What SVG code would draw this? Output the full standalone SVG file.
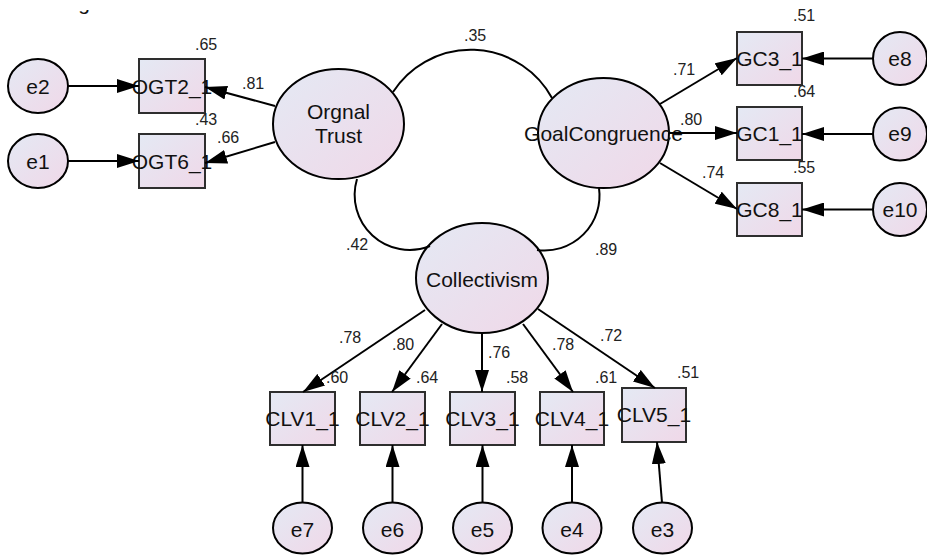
<svg xmlns="http://www.w3.org/2000/svg" width="927" height="557" viewBox="0 0 927 557">
<defs>
<linearGradient id="g" x1="0" y1="0" x2="1" y2="1">
<stop offset="0" stop-color="#e4e9f4"/>
<stop offset="1" stop-color="#f0d8e8"/>
</linearGradient>
<marker id="ah" viewBox="0 0 22 14" refX="22" refY="7" markerWidth="22" markerHeight="14" markerUnits="userSpaceOnUse" orient="auto">
<path d="M0,0 L22,7 L0,14 z" fill="#000"/>
</marker>
<clipPath id="cut"><rect x="0" y="10" width="200" height="20"/></clipPath>
</defs>
<style>
.n{fill:url(#g);stroke:#000;stroke-width:2}
.b{fill:url(#g);stroke:#2e2e2e;stroke-width:2}
.t{font-family:"Liberation Sans",Arial,sans-serif;font-size:21px;text-anchor:middle;fill:#111}
.l{font-family:"Liberation Sans",Arial,sans-serif;font-size:16px;fill:#222}
.c{fill:none;stroke:#000;stroke-width:2}
.a{fill:none;stroke:#000;stroke-width:2;marker-end:url(#ah)}
</style>
<rect width="927" height="557" fill="#fff"/>
<text class="t" x="84" y="9.5" font-size="26" clip-path="url(#cut)">g</text>

<g id="nodes">
<g id="e2"><ellipse class="n" cx="38" cy="86" rx="30" ry="27"/><text class="t" x="38" y="93.5">e2</text></g>
<g id="e1"><ellipse class="n" cx="38" cy="161" rx="30" ry="27"/><text class="t" x="38" y="168.5">e1</text></g>
<g id="OGT2_1"><rect class="b" x="139" y="59" width="66" height="54"/><text class="t" x="172" y="94">OGT2_1</text></g>
<g id="OGT6_1"><rect class="b" x="139" y="134" width="66" height="54"/><text class="t" x="172" y="168.5">OGT6_1</text></g>
<g id="OrgnalTrust"><ellipse class="n" cx="338.5" cy="124" rx="65.5" ry="55"/><text class="t" x="338.5" y="119">Orgnal</text><text class="t" x="338.5" y="142.5">Trust</text></g>
<g id="GoalCongruence"><ellipse class="n" cx="603.5" cy="133" rx="65.5" ry="55"/><text class="t" x="603.5" y="140.5">GoalCongruence</text></g>
<g id="Collectivism"><ellipse class="n" cx="482" cy="278" rx="66" ry="55"/><text class="t" x="482" y="286.5">Collectivism</text></g>
<g id="GC3_1"><rect class="b" x="737" y="32" width="65" height="53"/><text class="t" x="769.5" y="65.5">GC3_1</text></g>
<g id="GC1_1"><rect class="b" x="737" y="107" width="65" height="53"/><text class="t" x="769.5" y="140.5">GC1_1</text></g>
<g id="GC8_1"><rect class="b" x="737" y="183" width="65" height="53"/><text class="t" x="769.5" y="216.5">GC8_1</text></g>
<g id="e8"><ellipse class="n" cx="900" cy="58.5" rx="27" ry="26.5"/><text class="t" x="900" y="65.5">e8</text></g>
<g id="e9"><ellipse class="n" cx="900" cy="134" rx="27" ry="26.5"/><text class="t" x="900" y="141">e9</text></g>
<g id="e10"><ellipse class="n" cx="900" cy="209.5" rx="27" ry="26.5"/><text class="t" x="900" y="216.5">e10</text></g>
<g id="CLV1_1"><rect class="b" x="270" y="392" width="65" height="53"/><text class="t" x="302.5" y="426">CLV1_1</text></g>
<g id="CLV2_1"><rect class="b" x="360" y="392" width="65" height="53"/><text class="t" x="392.5" y="426">CLV2_1</text></g>
<g id="CLV3_1"><rect class="b" x="450" y="392" width="65" height="53"/><text class="t" x="482.5" y="426">CLV3_1</text></g>
<g id="CLV4_1"><rect class="b" x="540" y="392" width="64" height="53"/><text class="t" x="572" y="426">CLV4_1</text></g>
<g id="CLV5_1"><rect class="b" x="622" y="388" width="64" height="54"/><text class="t" x="654" y="421.5">CLV5_1</text></g>
<g id="e7"><ellipse class="n" cx="302.5" cy="528" rx="29.5" ry="25.5"/><text class="t" x="302.5" y="537">e7</text></g>
<g id="e6"><ellipse class="n" cx="392.5" cy="528" rx="29.5" ry="25.5"/><text class="t" x="392.5" y="537">e6</text></g>
<g id="e5"><ellipse class="n" cx="482.5" cy="528" rx="29.5" ry="25.5"/><text class="t" x="482.5" y="537">e5</text></g>
<g id="e4"><ellipse class="n" cx="572" cy="528" rx="29.5" ry="25.5"/><text class="t" x="572" y="537">e4</text></g>
<g id="e3"><ellipse class="n" cx="662.5" cy="528" rx="29.5" ry="25.5"/><text class="t" x="662.5" y="537">e3</text></g>
</g>

<g id="connectors">
<path class="c" d="M393,92 A92.6,92.6 0 0 1 552,98"/>
<path class="c" d="M357,179 A55,55 0 0 0 430,246"/>
<path class="c" d="M599,188 A55,55 0 0 1 537,250"/>
<path class="a" d="M68,86 L139,86"/>
<path class="a" d="M68,161 L139,161"/>
<path class="a" d="M275,106 L205,87"/>
<path class="a" d="M275,142 L205,163"/>
<path class="a" d="M660,104 L737,58"/>
<path class="a" d="M669,133 L737,133"/>
<path class="a" d="M660,163 L737,209"/>
<path class="a" d="M873,58.5 L802,58.5"/>
<path class="a" d="M873,134 L802,134"/>
<path class="a" d="M873,209.5 L802,209.5"/>
<path class="a" d="M425,310 L303,392"/>
<path class="a" d="M442,324 L392,392"/>
<path class="a" d="M482,333 L482,392"/>
<path class="a" d="M523,324 L573,392"/>
<path class="a" d="M538,309 L655,388"/>
<path class="a" d="M302.5,502.5 L302.5,445"/>
<path class="a" d="M392.5,502.5 L392.5,445"/>
<path class="a" d="M482.5,502.5 L482.5,445"/>
<path class="a" d="M572,502.5 L572,445"/>
<path class="a" d="M662,502.5 L657,442"/>
</g>

<g id="labels">
<text class="l" x="195" y="50">.65</text>
<text class="l" x="195" y="125">.43</text>
<text class="l" x="242" y="89">.81</text>
<text class="l" x="217" y="143">.66</text>
<text class="l" x="464" y="41">.35</text>
<text class="l" x="346" y="250">.42</text>
<text class="l" x="595" y="255">.89</text>
<text class="l" x="793" y="21">.51</text>
<text class="l" x="793" y="97">.64</text>
<text class="l" x="793" y="173">.55</text>
<text class="l" x="673" y="75">.71</text>
<text class="l" x="680" y="125">.80</text>
<text class="l" x="702" y="178">.74</text>
<text class="l" x="339" y="343">.78</text>
<text class="l" x="392" y="350">.80</text>
<text class="l" x="488" y="358">.76</text>
<text class="l" x="552" y="350">.78</text>
<text class="l" x="600" y="341">.72</text>
<text class="l" x="326" y="383">.60</text>
<text class="l" x="416" y="383">.64</text>
<text class="l" x="506" y="383">.58</text>
<text class="l" x="595" y="383">.61</text>
<text class="l" x="677" y="378">.51</text>
</g>
</svg>
